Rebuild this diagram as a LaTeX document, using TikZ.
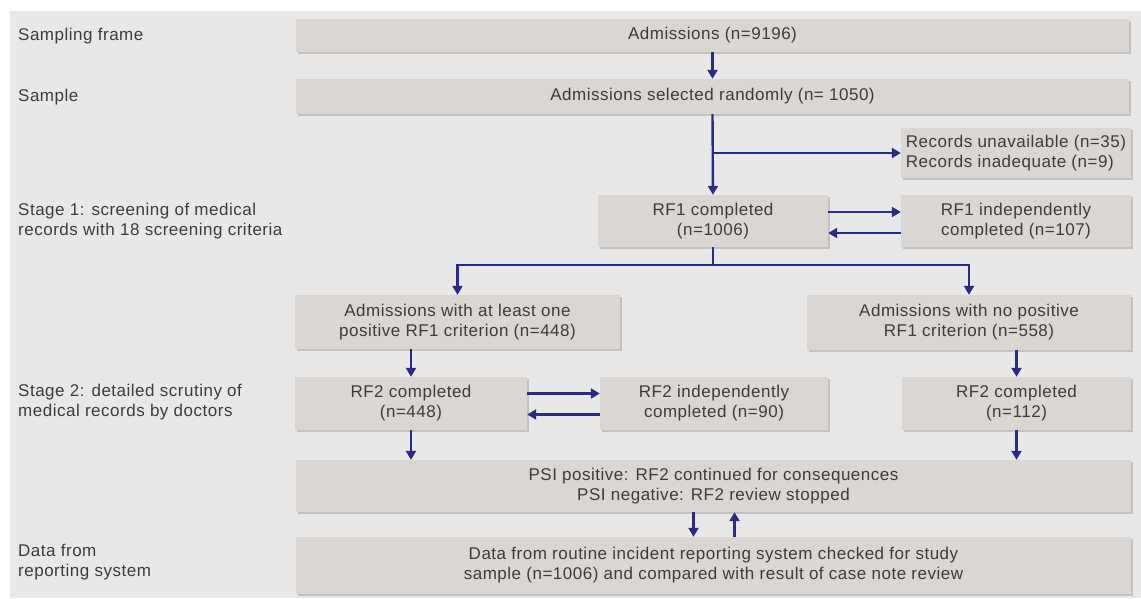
\documentclass[tikz,border=0pt]{standalone}
\usepackage{fontspec}
\setmainfont[LetterSpace=3]{Liberation Sans}
\usetikzlibrary{arrows.meta,shadows}
\definecolor{bgcol}{HTML}{E8E8E8}
\definecolor{boxcol}{HTML}{D9D6D3}
\definecolor{shadcol}{HTML}{C4C1BE}
\definecolor{arrcol}{HTML}{2B2B85}
\definecolor{txtcol}{HTML}{3C3C3C}
\tikzset{
  box/.style={fill=boxcol, draw=none, inner sep=2pt, align=center, text=txtcol,
    font=\fontsize{17}{20}\selectfont,
    drop shadow={shadow xshift=2pt, shadow yshift=-2pt, fill=shadcol, opacity=1}},
  lbl/.style={anchor=west, align=left, text=txtcol, inner sep=0pt,
    font=\fontsize{17}{20}\selectfont},
  conn/.style={draw=arrcol, line width=2.4pt, -{Triangle[length=9pt,width=10pt]}},
  line/.style={draw=arrcol, line width=2.4pt}
}
\begin{document}
\begin{tikzpicture}[x=1pt,y=-1pt]
\useasboundingbox (0,0) rectangle (1141,598);
\fill[bgcol] (10,11) rectangle (1141,598);

% left labels
\node[lbl] (l1) at (18,36) {Sampling frame};
\node[lbl] (l2) at (18,97) {Sample};
\node[lbl] (l3) at (18,221) {Stage 1: screening of medical\\records with 18 screening criteria};
\node[lbl] (l4) at (18,402) {Stage 2: detailed scrutiny of\\medical records by doctors};
\node[lbl] (l5) at (18,562) {Data from\\reporting system};

% boxes
\node[box, minimum width=833pt, minimum height=33pt] (adm) at (712.5,35.5) {Admissions (n=9196)};
\node[box, minimum width=833pt, minimum height=35pt] (sel) at (712.5,96.5) {Admissions selected randomly (n= 1050)};
\node[box, minimum width=230pt, minimum height=50pt, align=left] (rec) at (1016,153) {Records unavailable (n=35)\\Records inadequate (n=9)};
\node[box, minimum width=230pt, minimum height=52pt] (rf1) at (713,221) {RF1 completed\\(n=1006)};
\node[box, minimum width=230pt, minimum height=52pt] (rf1i) at (1016,221) {RF1 independently\\completed (n=107)};
\node[box, minimum width=325pt, minimum height=54pt] (pos) at (457.5,322) {Admissions with at least one\\positive RF1 criterion (n=448)};
\node[box, minimum width=324pt, minimum height=55pt] (neg) at (969,322.5) {Admissions with no positive\\RF1 criterion (n=558)};
\node[box, minimum width=232pt, minimum height=53pt] (rf2a) at (411,403.5) {RF2 completed\\(n=448)};
\node[box, minimum width=228pt, minimum height=53pt] (rf2i) at (714,403.5) {RF2 independently\\completed (n=90)};
\node[box, minimum width=229pt, minimum height=53pt] (rf2b) at (1016.5,403.5) {RF2 completed\\(n=112)};
\node[box, minimum width=835pt, minimum height=52pt] (psi) at (713.5,486) {PSI positive: RF2 continued for consequences\\PSI negative: RF2 review stopped};
\node[box, minimum width=835pt, minimum height=57pt] (data) at (713.5,565.5) {Data from routine incident reporting system checked for study\\sample (n=1006) and compared with result of case note review};

% connectors
\draw[conn] (adm.south) -- (sel.north);
\draw[conn] (sel.south) -- (rf1.north);
\coordinate (br1) at (sel.south |- rec.west);
\draw[conn] (br1) -- (rec.west);

\draw[conn] ([yshift=9pt]rf1.east) -- ([yshift=9pt]rf1i.west);
\draw[conn] ([yshift=-12pt]rf1i.west) -- ([yshift=-12pt]rf1.east);

\coordinate (j1) at ([yshift=-18pt]rf1.south);
\draw[line] (rf1.south) -- (j1);
\draw[conn] (j1) -| (pos.north);
\draw[conn] (j1) -| (neg.north);

\draw[conn] (pos.south -| rf2a.north) -- (rf2a.north);
\draw[conn] (neg.south -| rf2b.north) -- (rf2b.north);

\draw[conn] ([yshift=10pt]rf2a.east) -- ([yshift=10pt]rf2i.west);
\draw[conn] ([yshift=-11pt]rf2i.west) -- ([yshift=-11pt]rf2a.east);

\draw[conn] (rf2a.south) -- (rf2a.south |- psi.north);
\draw[conn] (rf2b.south) -- (rf2b.south |- psi.north);

\draw[conn] ([xshift=-20pt]psi.south) -- ([xshift=-20pt]data.north);
\draw[conn] ([xshift=21pt]data.north) -- ([xshift=21pt]psi.south);
\end{tikzpicture}
\end{document}
